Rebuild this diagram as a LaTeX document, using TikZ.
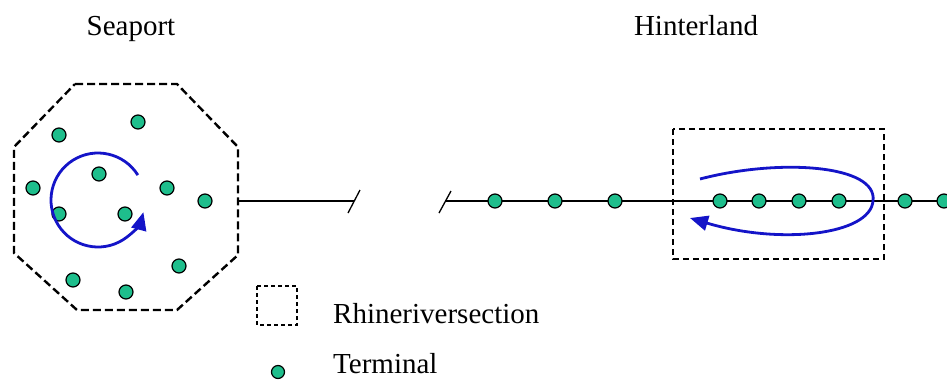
\documentclass[tikz,border=0pt]{standalone}
\usepackage{fontspec}
\setmainfont{Liberation Serif}
\newfontfamily\timesfont{Liberation Serif}
\usetikzlibrary{arrows.meta}
\definecolor{termgreen}{RGB}{30,190,140}
\definecolor{loopblue}{RGB}{20,20,200}

\begin{document}
\begin{tikzpicture}[x=1pt,y=-1pt,
  terminal/.style={circle,draw=black,fill=termgreen,line width=1.2pt,inner sep=0pt,minimum size=14pt},
  label/.style={font=\timesfont\fontsize{29}{34}\selectfont,inner sep=0pt},
  region/.style={line width=2.4pt,dash pattern=on 8pt off 4pt},
  section/.style={line width=1.8pt,dash pattern=on 6pt off 4pt},
  flow/.style={draw=loopblue,line width=2.8pt,-{Triangle[length=18pt,width=15pt]}},
]
 \useasboundingbox (0,0) rectangle (947,381);

 % Parameters
 \def\liney{201}

 % titles
 \node[label,anchor=base] (seaport) at (131,35) {Seaport};
 \node[label,anchor=base] (hinterland) at (696,35) {Hinterland};

 % seaport border
 \draw[region] (75,84) -- (177,84) -- (238,147) -- (238,255) -- (177,310)
   -- (77,310) -- (14,253) -- (14,147) -- cycle;

 % rhine river section
 \draw[section] (673,129) rectangle (884,259);

 % main line with break
 \coordinate (portexit) at (238,\liney);
 \coordinate (breakL) at (354,\liney);
 \coordinate (breakR) at (445,\liney);
 \coordinate (inlandend) at (947,\liney);
 \draw[line width=1.3pt] (portexit) -- (breakL);
 \draw[line width=1.3pt] (breakR) -- (inlandend);
 \draw[line width=1.3pt] (348,213) -- (360,190);
 \draw[line width=1.3pt] (439,213) -- (451,191);

 % seaport terminals
 \foreach \x/\y [count=\k] in {138/122,59/135,99/174,33/188,167/188,205/201,
                              59/214,125/214,179/266,73/280,126/292} {
   \node[terminal] (port\k) at (\x,\y) {};
 }

 % hinterland terminals
 \foreach \x [count=\k] in {495,555,615,720,759,799,839,905,944} {
   \node[terminal] (inland\k) at (\x,\liney) {};
 }

 % circulation in the port
 \draw[flow] (98,200) ++(-32:47) arc[start angle=-32,end angle=-345,radius=47];

 % shuttle loop in the river section
 \draw[flow] (700,179) .. controls (780,158) and (878,165) .. (873,201)
   .. controls (870,235) and (780,245) .. (690,218);

 % legend
 \draw[line width=1.2pt,dash pattern=on 4pt off 3pt] (257,286) rectangle (297,325);
 \node[label,anchor=base west] (legsection) at (333,323) {Rhineriversection};
 \node[terminal,minimum size=13pt] (legdot) at (278,372) {};
 \node[label,anchor=base west] (legterminal) at (333,373) {Terminal};

\end{tikzpicture}
\end{document}
